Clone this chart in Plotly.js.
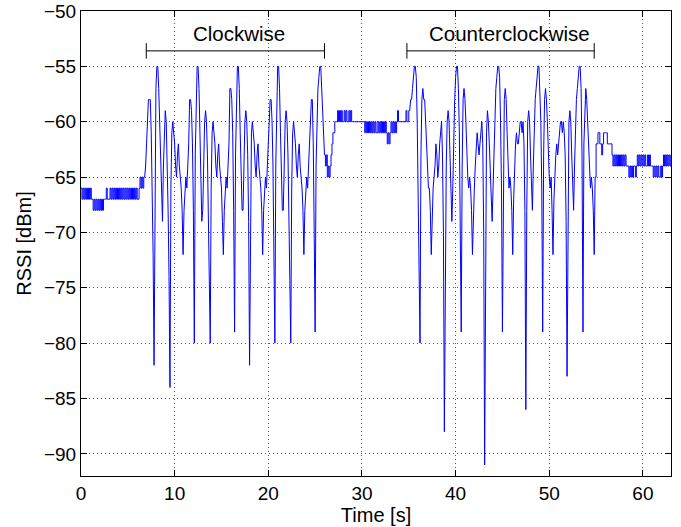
<!DOCTYPE html>
<html>
<head>
<meta charset="utf-8">
<script src="https://cdn.plot.ly/plotly-3.0.1.min.js"></script>
<style>html,body{margin:0;padding:0;background:#fff;}#chart{width:681px;height:527px;}</style>
</head>
<body>
<div id="chart"></div>
<script>
// Idle before rotation (s, dBm)
const timeIdle = [0.0,0.1,0.2,0.3,0.4,0.5,0.6,0.7,0.8,0.9,1.0,1.1,1.2,1.3,1.4,1.5,1.6,1.7,1.8,1.9,2.0,2.1,2.2,2.3,2.4,2.5,2.6,2.7,2.8,2.9,3.0,3.1,3.2,3.3,3.4,3.5,3.6,3.7,3.8,3.9,4.0,4.1,4.2,4.3,4.4,4.5,4.6,4.7,4.8,4.9,5.0,5.1,5.2,5.3,5.4,5.5,5.6,5.7,5.8,5.9,6.0,6.1,6.2,6.3,6.4,6.5,6.6,6.7,6.8];
const rssiIdle = [-66,-67,-66,-67,-66,-67,-66,-67,-66,-67,-66,-67,-67,-68,-67,-68,-67,-68,-67,-68,-67,-68,-67,-68,-67,-67,-67,-66,-67,-67,-67,-66,-67,-66,-67,-66,-67,-66,-67,-66,-67,-66,-67,-66,-67,-66,-67,-66,-67,-66,-67,-66,-67,-66,-67,-66,-67,-66,-67,-66,-67,-67,-66,-65,-66,-65,-66,-65,-65];

// Clockwise rotation
const timeCw = [6.9,7.0,7.1,7.2,7.3,7.4,7.5,7.6,7.7,7.8,7.9,8.0,8.1,8.2,8.3,8.4,8.5,8.6,8.7,8.8,8.9,9.0,9.1,9.2,9.3,9.4,9.5,9.6,9.7,9.8,9.9,10.0,10.1,10.2,10.3,10.4,10.5,10.6,10.7,10.8,10.9,11.0,11.1,11.2,11.3,11.4,11.5,11.6,11.7,11.8,11.9,12.0,12.1,12.2,12.3,12.4,12.5,12.6,12.7,12.8,12.9,13.0,13.1,13.2,13.3,13.4,13.5,13.6,13.7,13.8,13.9,14.0,14.1,14.2,14.3,14.4,14.5,14.6,14.7,14.8,14.9,15.0,15.1,15.2,15.3,15.4,15.5,15.6,15.7,15.8,15.9,16.0,16.1,16.2,16.3,16.4,16.5,16.6,16.7,16.8,16.9,17.0,17.1,17.2,17.3,17.4,17.5,17.6,17.7,17.8,17.9,18.0,18.1,18.2,18.3,18.4,18.5,18.6,18.7,18.8,18.9,19.0,19.1,19.2,19.3,19.4,19.5,19.6,19.7,19.8,19.9,20.0,20.1,20.2,20.3,20.4,20.5,20.6,20.7,20.8,20.9,21.0,21.1,21.2,21.3,21.4,21.5,21.6,21.7,21.8,21.9,22.0,22.1,22.2,22.3,22.4,22.5,22.6,22.7,22.8,22.9,23.0,23.1,23.2,23.3,23.4,23.5,23.6,23.7,23.8,23.9,24.0,24.1,24.2,24.3,24.4,24.5,24.6,24.7,24.8,24.9,25.0,25.1,25.2,25.3,25.4,25.5,25.6,25.7,25.8,25.9,26.0];
const rssiCw = [-64,-62,-60,-58,-58,-58,-61,-66,-72,-82,-64,-57,-55,-55,-57,-60,-64,-68,-69,-64,-60,-59,-60,-63,-68,-74,-84,-66,-61,-60,-61,-62,-64,-65,-63,-62,-64,-65,-66,-68,-72,-68,-66,-65,-66,-64,-62,-58,-58,-59,-62,-68,-80,-63,-57,-55,-55,-57,-61,-65,-69,-68,-63,-60,-59,-60,-63,-69,-74,-80,-66,-61,-60,-61,-62,-64,-65,-63,-62,-64,-65,-66,-69,-72,-68,-66,-65,-66,-64,-62,-57,-57,-58,-61,-68,-79,-63,-57,-55,-55,-57,-61,-65,-68,-68,-63,-60,-59,-60,-63,-69,-82,-67,-61,-60,-61,-62,-64,-65,-63,-62,-64,-65,-66,-68,-72,-68,-66,-65,-66,-64,-62,-59,-58,-58,-60,-64,-70,-80,-64,-57,-55,-55,-57,-61,-65,-68,-68,-63,-60,-59,-60,-63,-68,-73,-80,-66,-61,-60,-61,-62,-64,-65,-63,-62,-64,-65,-66,-68,-72,-68,-66,-65,-66,-64,-62,-59,-58,-58,-62,-70,-79,-64,-59,-57,-56,-55,-55,-57,-59,-61,-63,-63];

// Pause between rotations
const timePause = [26.1,26.2,26.3,26.4,26.5,26.6,26.7,26.8,26.9,27.0,27.1,27.2,27.3,27.4,27.5,27.6,27.7,27.8,27.9,28.0,28.1,28.2,28.3,28.4,28.5,28.6,28.7,28.8,28.9,29.0,29.2,29.6,30.0,30.2,30.3,30.4,30.5,30.6,30.7,30.8,30.9,31.0,31.1,31.2,31.3,31.4,31.5,31.6,31.7,31.8,31.9,32.0,32.1,32.2,32.3,32.4,32.5,32.6,32.7,32.8,32.9,33.0,33.1,33.2,33.3,33.4,33.5,33.6,33.7,33.8,33.9,34.0,34.3,34.6,34.7,34.8,34.9,35.0];
const rssiPause = [-64,-63,-65,-64,-65,-64,-63,-62,-61,-61,-60,-60,-60,-59,-60,-59,-60,-59,-60,-60,-59,-60,-59,-60,-60,-59,-60,-59,-60,-60,-60,-60,-60,-60,-61,-60,-61,-60,-61,-60,-61,-60,-61,-60,-61,-60,-61,-61,-60,-61,-60,-61,-60,-61,-60,-61,-60,-61,-62,-61,-62,-61,-60,-61,-60,-61,-60,-61,-60,-59,-60,-60,-60,-60,-59,-60,-60,-59];

// Counterclockwise rotation
const timeCcw = [35.1,35.2,35.3,35.4,35.5,35.6,35.7,35.8,35.9,36.0,36.1,36.2,36.3,36.4,36.5,36.6,36.7,36.8,36.9,37.0,37.1,37.2,37.3,37.4,37.5,37.6,37.7,37.8,37.9,38.0,38.1,38.2,38.3,38.4,38.5,38.6,38.7,38.8,38.9,39.0,39.1,39.2,39.3,39.4,39.5,39.6,39.7,39.8,39.9,40.0,40.1,40.2,40.3,40.4,40.5,40.6,40.7,40.8,40.9,41.0,41.1,41.2,41.3,41.4,41.5,41.6,41.7,41.8,41.9,42.0,42.1,42.2,42.3,42.4,42.5,42.6,42.7,42.8,42.9,43.0,43.1,43.2,43.3,43.4,43.5,43.6,43.7,43.8,43.9,44.0,44.1,44.2,44.3,44.4,44.5,44.6,44.7,44.8,44.9,45.0,45.1,45.2,45.3,45.4,45.5,45.6,45.7,45.8,45.9,46.0,46.1,46.2,46.3,46.4,46.5,46.6,46.7,46.8,46.9,47.0,47.1,47.2,47.3,47.4,47.5,47.6,47.7,47.8,47.9,48.0,48.1,48.2,48.3,48.4,48.5,48.6,48.7,48.8,48.9,49.0,49.1,49.2,49.3,49.4,49.5,49.6,49.7,49.8,49.9,50.0,50.1,50.2,50.3,50.4,50.5,50.6,50.7,50.8,50.9,51.0,51.1,51.2,51.3,51.4,51.5,51.6,51.7,51.8,51.9,52.0,52.1,52.2,52.3,52.4,52.5,52.6,52.7,52.8,52.9,53.0,53.1,53.2,53.3,53.4,53.5,53.6,53.7,53.8,53.9,54.0,54.1,54.2,54.3,54.4,54.5,54.6,54.7,54.8,54.9];
const rssiCcw = [-59,-58,-58,-57,-56,-55,-55,-56,-60,-66,-70,-80,-63,-58,-57,-58,-58,-60,-63,-65,-66,-66,-68,-72,-68,-66,-65,-64,-62,-63,-65,-64,-62,-61,-60,-63,-70,-88,-72,-64,-60,-59,-60,-63,-67,-69,-66,-61,-58,-56,-55,-55,-57,-61,-68,-79,-64,-58,-57,-58,-60,-63,-65,-66,-65,-66,-68,-72,-68,-66,-64,-62,-61,-62,-63,-62,-61,-60,-62,-70,-91,-70,-61,-59,-60,-62,-65,-68,-69,-66,-62,-59,-57,-56,-55,-55,-56,-60,-66,-79,-62,-58,-57,-58,-61,-65,-66,-65,-66,-68,-72,-67,-64,-62,-61,-62,-62,-61,-60,-60,-61,-60,-62,-68,-86,-68,-60,-59,-60,-63,-67,-68,-64,-60,-58,-57,-56,-55,-55,-57,-60,-66,-79,-63,-58,-57,-58,-60,-63,-65,-66,-65,-68,-72,-67,-64,-63,-62,-63,-62,-61,-60,-60,-61,-60,-61,-63,-69,-83,-66,-60,-59,-60,-63,-67,-68,-64,-60,-58,-57,-56,-55,-55,-57,-63,-79,-62,-58,-57,-58,-60,-62,-65,-66,-65,-66,-68,-72,-65];

// After rotation
const timeTail = [55.0,55.1,55.2,55.3,55.4,55.5,55.6,55.7,55.8,55.9,56.0,56.1,56.2,56.3,56.4,56.5,56.6,56.7,56.8,56.9,57.0,57.1,57.2,57.3,57.4,57.5,57.6,57.7,57.8,57.9,58.0,58.1,58.2,58.3,58.4,58.5,58.6,58.7,58.8,58.9,59.0,59.1,59.2,59.3,59.4,59.5,59.6,59.7,59.8,59.9,60.0,60.1,60.2,60.3,60.4,60.5,60.6,60.7,60.8,60.9,61.0,61.1,61.2,61.3,61.4,61.5,61.6,61.7,61.8,61.9,62.0,62.1,62.2,62.3,62.4,62.5,62.6,62.7,62.8,62.9,63.0];
const rssiTail = [-62,-62,-61,-61,-62,-62,-63,-62,-61,-61,-61,-61,-62,-62,-62,-62,-62,-63,-64,-63,-64,-63,-64,-63,-64,-63,-64,-63,-64,-63,-64,-63,-64,-64,-64,-65,-64,-65,-64,-65,-64,-64,-65,-64,-63,-64,-63,-64,-63,-64,-63,-64,-63,-64,-64,-63,-64,-63,-64,-64,-64,-65,-64,-65,-64,-65,-64,-65,-65,-64,-65,-64,-63,-64,-63,-64,-63,-64,-63,-64,-63];

const xTicks = [0, 10, 20, 30, 40, 50, 60];
const yTicks = [-90, -85, -80, -75, -70, -65, -60, -55, -50];
const phaseLabels = ['Clockwise', 'Counterclockwise'];

const font = 'Liberation Sans, Arial, Helvetica, sans-serif';
const lineStyle = {color: '#0000ff', width: 1};

// Steady segments are quantised (integer dBm) and drawn as steps; rotations as straight segments.
// Each segment starts at the last sample of the previous one so the curve is continuous.
function seg(xPrev, yPrev, xs, ys, shape) {
  const x = xPrev === null ? xs.slice() : [xPrev].concat(xs);
  const y = yPrev === null ? ys.slice() : [yPrev].concat(ys);
  return {x: x, y: y, type: 'scatter', mode: 'lines', line: Object.assign({shape: shape}, lineStyle), hoverinfo: 'skip'};
}
const last = a => a[a.length - 1];
const traces = [
  seg(null, null, timeIdle, rssiIdle, 'hv'),
  seg(last(timeIdle), last(rssiIdle), timeCw, rssiCw, 'linear'),
  seg(last(timeCw), last(rssiCw), timePause, rssiPause, 'hv'),
  seg(last(timePause), last(rssiPause), timeCcw, rssiCcw, 'linear'),
  seg(last(timeCcw), last(rssiCcw), timeTail, rssiTail, 'hv')
];

function bracket(x0, x1, y, h) {
  return [
    {type:'line', xref:'x', yref:'y', x0:x0, x1:x1, y0:y, y1:y, line:{color:'#000', width:1}},
    {type:'line', xref:'x', yref:'y', x0:x0, x1:x0, y0:y-h, y1:y+h, line:{color:'#000', width:1}},
    {type:'line', xref:'x', yref:'y', x0:x1, x1:x1, y0:y-h, y1:y+h, line:{color:'#000', width:1}}
  ];
}

const axisCommon = {
  showline: true, linecolor: '#000', linewidth: 1, mirror: 'ticks',
  ticks: 'inside', ticklen: 6, tickcolor: '#000', tickwidth: 1,
  showgrid: true, gridcolor: '#555', gridwidth: 1, griddash: '1px,3px',
  zeroline: false, tickfont: {family: font, size: 19, color: '#000'}
};

const layout = {
  width: 681, height: 527,
  margin: {l: 81, r: 10, t: 11, b: 51},
  paper_bgcolor: '#fff', plot_bgcolor: '#fff',
  showlegend: false,
  font: {family: font, size: 19, color: '#000'},
  xaxis: Object.assign({}, axisCommon, {
    range: [0, 63], tickvals: xTicks, ticktext: xTicks.map(String),
    title: {text: 'Time [s]', font: {family: font, size: 20}, standoff: 3}
  }),
  yaxis: Object.assign({}, axisCommon, {
    range: [-92, -50], tickvals: yTicks, ticktext: yTicks.map(v => '\u2212' + Math.abs(v)),
    title: {text: 'RSSI [dBm]', font: {family: font, size: 20}, standoff: 6}
  }),
  shapes: [].concat(bracket(6.97, 26.0, -53.6, 0.7), bracket(34.8, 54.8, -53.6, 0.7)),
  annotations: [
    {x: 16.9, y: -52.0, xref:'x', yref:'y', text: phaseLabels[0], showarrow:false, font:{family:font, size:20.5, color:'#000'}},
    {x: 45.8, y: -52.0, xref:'x', yref:'y', text: phaseLabels[1], showarrow:false, font:{family:font, size:20.5, color:'#000'}}
  ]
};

Plotly.newPlot('chart', traces, layout, {staticPlot: true, displayModeBar: false});
</script>
</body>
</html>
